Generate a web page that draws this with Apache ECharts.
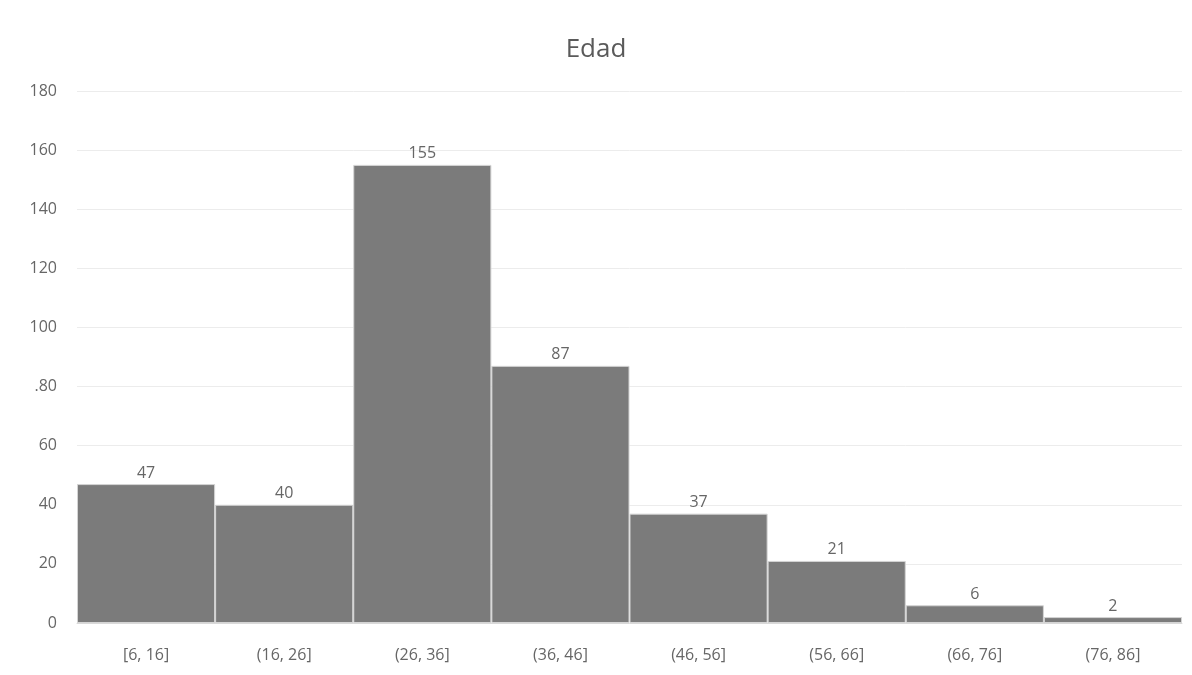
<!DOCTYPE html>
<html>
<head>
<meta charset="utf-8">
<script src="https://cdn.jsdelivr.net/npm/echarts@6/dist/echarts.min.js"></script>
<style>
html,body{margin:0;padding:0;background:#fff;}
#chart{width:1192px;height:675px;}
</style>
</head>
<body>
<div id="chart"></div>
<script>
const categories = ['[6, 16]', '(16, 26]', '(26, 36]', '(36, 46]', '(46, 56]', '(56, 66]', '(66, 76]', '(76, 86]'];
const counts = [47, 40, 155, 87, 37, 21, 6, 2];
const yTickValues = [0, 20, 40, 60, 80, 100, 120, 140, 160, 180];
const yTickLabels = ['0', '20', '40', '60', '.80', '100', '120', '140', '160', '180'];

const chart = echarts.init(document.getElementById('chart'));
chart.setOption({
  backgroundColor: '#fff',
  animation: false,
  title: {
    text: 'Edad',
    left: 'center',
    top: 32,
    textStyle: { fontFamily: 'Open Sans', fontSize: 26, fontWeight: 'normal', color: '#5a5a5a' }
  },
  grid: { left: 77, right: 10, top: 91, bottom: 52, containLabel: false },
  xAxis: {
    type: 'category',
    data: categories,
    axisLine: { show: true, lineStyle: { color: '#d9d9d9' } },
    axisTick: { show: false },
    axisLabel: { fontFamily: 'Open Sans', fontSize: 16, color: '#666', margin: 24 }
  },
  yAxis: {
    type: 'value',
    min: 0,
    max: 180,
    interval: 20,
    axisLine: { show: false },
    axisTick: { show: false },
    splitLine: { lineStyle: { color: '#ececec' } },
    axisLabel: {
      fontFamily: 'Open Sans', fontSize: 16, color: '#666', margin: 20,
      formatter: function (v) { const i = yTickValues.indexOf(v); return i >= 0 ? yTickLabels[i] : String(v); }
    }
  },
  series: [{
    type: 'bar',
    data: counts,
    barCategoryGap: '0%',
    itemStyle: { color: '#7b7b7b', borderColor: '#d4d4d4', borderWidth: 1 },
    label: { show: true, position: 'top', distance: 3, fontFamily: 'Open Sans', fontSize: 16, color: '#666' }
  }]
});
</script>
</body>
</html>
